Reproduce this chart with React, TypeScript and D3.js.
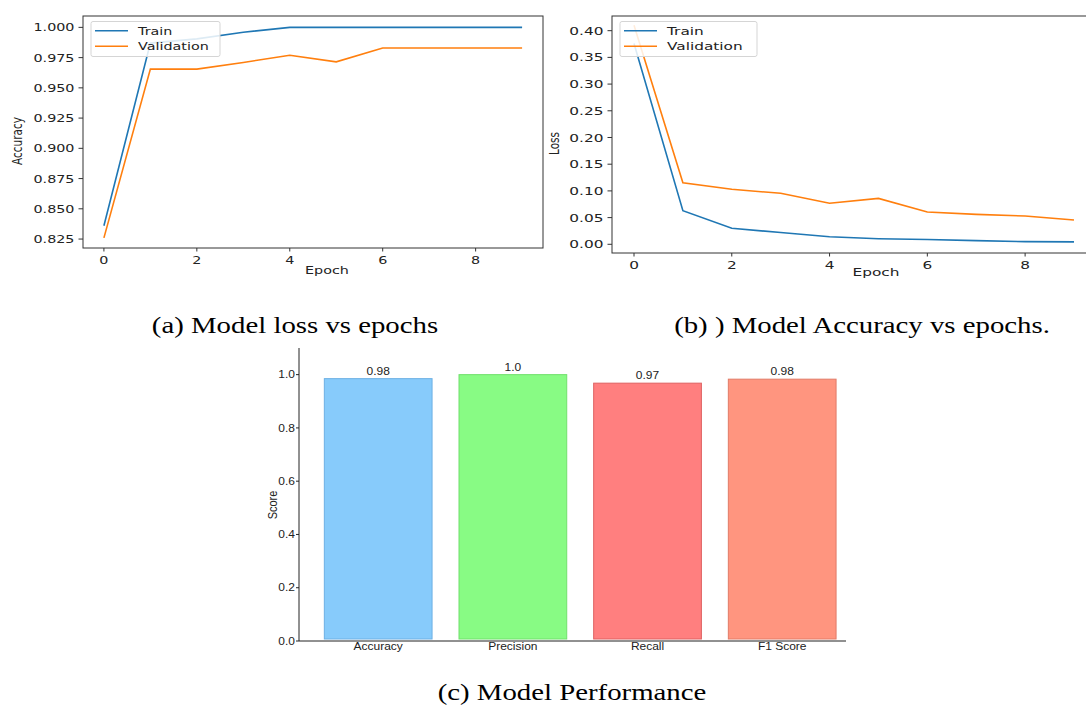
import React from 'react';
import * as d3 from 'd3';

// data
const epochs = [0, 1, 2, 3, 4, 5, 6, 7, 8, 9];
const trainAcc = [0.836, 0.987, 0.9905, 0.996, 1.0, 1.0, 1.0, 1.0, 1.0, 1.0];
const valAcc = [0.826, 0.9655, 0.9655, 0.971, 0.977, 0.9715, 0.983, 0.983, 0.983, 0.983];
const trainLoss = [0.376, 0.063, 0.030, 0.022, 0.014, 0.0105, 0.009, 0.0068, 0.005, 0.0045];
const valLoss = [0.41, 0.1154, 0.103, 0.0955, 0.0768, 0.086, 0.0605, 0.056, 0.053, 0.0455];

const accTicks = [0.825, 0.85, 0.875, 0.9, 0.925, 0.95, 0.975, 1.0];
const lossTicks = [0, 0.05, 0.1, 0.15, 0.2, 0.25, 0.3, 0.35, 0.4];
const epochTicks = [0, 2, 4, 6, 8];

const metrics = ['Accuracy', 'Precision', 'Recall', 'F1 Score'];
const scores = [0.985, 1.0, 0.968, 0.983];
const scoreLabels = ['0.98', '1.0', '0.97', '0.98'];
const scoreTicks = [0, 0.2, 0.4, 0.6, 0.8, 1.0];

const barFill = ['#87CBFB', '#88FB84', '#FF7F7F', '#FF957F'];
const barEdge = ['#6DB0E4', '#70E06C', '#DE6262', '#E27C68'];

const MPL = '"DejaVu Sans", sans-serif';
const SANS = '"Liberation Sans", Arial, sans-serif';
const SERIF = '"Liberation Serif", "Times New Roman", serif';

// the source picture is stretched sideways, so text gets a horizontal scale
function SText({ x, y, sx = 1, rot = 0, anchor = 'start', size, family, fill = '#222', dy = undefined, children }: any) {
  const t = `translate(${x},${y}) scale(${sx},1)` + (rot ? ` rotate(${rot})` : '');
  return (
    <text transform={t} textAnchor={anchor} fontSize={size} fontFamily={family} fill={fill} dy={dy}>
      {children}
    </text>
  );
}

function LineChart({ L, T, R, B, yDomain, yTicks, fmt, train, val, yLabel, yLabelX, xLabelX, xLabelY, lgX, lgW, sx }: any) {
  const x = d3.scaleLinear().domain([-0.45, 9.45]).range([L, R]);
  const y = d3.scaleLinear().domain(yDomain).range([B, T]);
  const line = d3.line<number>().x((d, i) => x(epochs[i])).y(d => y(d));
  const f = d3.format(fmt);
  const tick = 4.5;
  return (
    <g>
      <path d={line(train) || ''} fill="none" stroke="#1f77b4" strokeWidth={1.6} />
      <path d={line(val) || ''} fill="none" stroke="#ff7f0e" strokeWidth={1.6} />
      <rect x={L} y={T} width={R - L} height={B - T} fill="none" stroke="#333" strokeWidth={1} />
      {yTicks.map((v: number) => (
        <g key={v}>
          <line x1={L - tick} x2={L} y1={y(v)} y2={y(v)} stroke="#333" />
          <SText x={L - tick - 4} y={y(v)} dy="0.36em" sx={sx} anchor="end" size={11.2} family={MPL}>{f(v)}</SText>
        </g>
      ))}
      {epochTicks.map(v => (
        <g key={v}>
          <line x1={x(v)} x2={x(v)} y1={B} y2={B + 3.5} stroke="#333" />
          <SText x={x(v)} y={B + 16} sx={sx} anchor="middle" size={11.2} family={MPL}>{v}</SText>
        </g>
      ))}
      <SText x={yLabelX} y={(T + B) / 2 + 9} sx={sx} rot={-90} anchor="middle" size={10.5} family={MPL}>{yLabel}</SText>
      <SText x={xLabelX} y={xLabelY} sx={sx} anchor="middle" size={11.2} family={MPL}>Epoch</SText>
      <rect x={lgX} y={T + 5.5} width={lgW} height={35} rx={2} fill="#fff" fillOpacity={0.85} stroke="#d5d5d5" />
      <line x1={lgX + 4} x2={lgX + 37} y1={T + 14.7} y2={T + 14.7} stroke="#1f77b4" strokeWidth={1.6} />
      <line x1={lgX + 4} x2={lgX + 37} y1={T + 30.2} y2={T + 30.2} stroke="#ff7f0e" strokeWidth={1.6} />
      <SText x={lgX + 47} y={T + 18.8} sx={sx} size={11.2} family={MPL}>Train</SText>
      <SText x={lgX + 47} y={T + 34.3} sx={sx} size={11.2} family={MPL}>Validation</SText>
    </g>
  );
}

function BarChart() {
  const xb = d3.scaleBand().domain(metrics).range([297.4, 863]).paddingInner(0.2).paddingOuter(0.2);
  const yb = d3.scaleLinear().domain([0, 1.1]).range([641, 348]);
  const sx = 1.2;
  return (
    <g>
      {metrics.map((m, i) => (
        <g key={m}>
          <rect x={xb(m)} y={yb(scores[i])} width={xb.bandwidth()} height={yb(0) - 2 - yb(scores[i])}
            fill={barFill[i]} stroke={barEdge[i]} strokeWidth={1} />
          <SText x={(xb(m) || 0) + xb.bandwidth() / 2} y={yb(scores[i]) - 4} sx={sx} anchor="middle" size={10} family={SANS}>{scoreLabels[i]}</SText>
          <SText x={(xb(m) || 0) + xb.bandwidth() / 2} y={650} sx={sx} anchor="middle" size={10} family={SANS}>{m}</SText>
        </g>
      ))}
      <line x1={299} x2={299} y1={348} y2={yb(0)} stroke="#222" />
      <line x1={299} x2={846} y1={yb(0)} y2={yb(0)} stroke="#222" />
      {scoreTicks.map(v => (
        <g key={v}>
          <line x1={296} x2={299} y1={yb(v)} y2={yb(v)} stroke="#222" />
          <SText x={295} y={yb(v)} dy="0.36em" sx={sx} anchor="end" size={10} family={SANS}>{v.toFixed(1)}</SText>
        </g>
      ))}
      <SText x={277} y={505} sx={sx} rot={-90} anchor="middle" size={11} family={SANS}>Score</SText>
    </g>
  );
}

export default function App() {
  return (
    <svg width={1086} height={708} style={{ position: 'absolute', left: 0, top: 0, background: '#fff' }}>
      <rect width={1086} height={708} fill="#fff" />
      <LineChart L={83} T={16} R={543} B={248} yDomain={[0.8176, 1.0094]} yTicks={accTicks} fmt=".3f"
        train={trainAcc} val={valAcc} yLabel="Accuracy" yLabelX={22} xLabelX={327} xLabelY={274}
        lgX={91} lgW={129} sx={1.28} />
      <LineChart L={612} T={16} R={1096} B={253} yDomain={[-0.0163, 0.4275]} yTicks={lossTicks} fmt=".2f"
        train={trainLoss} val={valLoss} yLabel="Loss" yLabelX={559} xLabelX={876} xLabelY={276}
        lgX={620} lgW={137} sx={1.37} />
      <BarChart />
      <SText x={295} y={333} sx={1.2} anchor="middle" size={24} family={SERIF} fill="#000">(a) Model loss vs epochs</SText>
      <SText x={862} y={333} sx={1.2} anchor="middle" size={24} family={SERIF} fill="#000">(b) ) Model Accuracy vs epochs.</SText>
      <SText x={572} y={700} sx={1.2} anchor="middle" size={24} family={SERIF} fill="#000">(c) Model Performance</SText>
    </svg>
  );
}
